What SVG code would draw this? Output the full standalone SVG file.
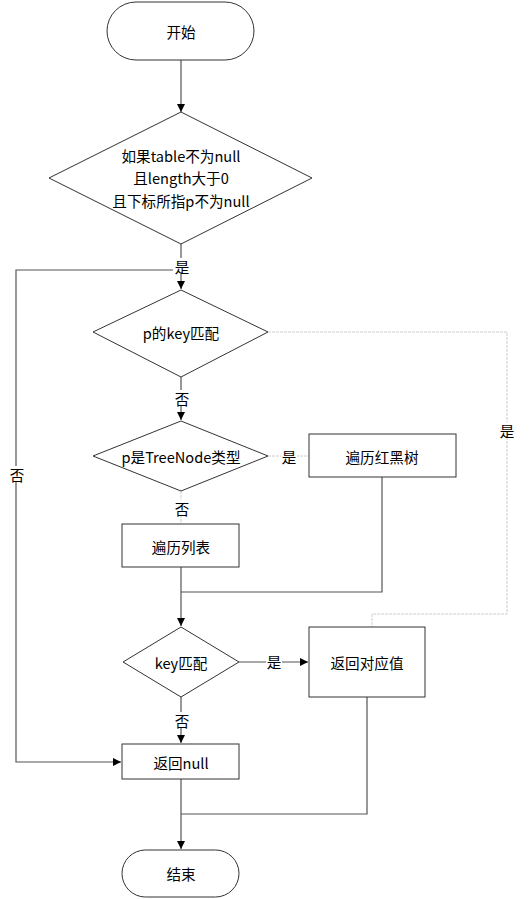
<svg xmlns="http://www.w3.org/2000/svg" width="529" height="899" viewBox="0 0 529 899">
<defs>
<style>
.n{fill:#fff;stroke:#333;stroke-width:1}
.t{font-family:"Noto Sans CJK SC","Liberation Sans",sans-serif;font-size:14.6px;fill:#000;text-anchor:middle;dominant-baseline:central}
.c{fill:none;stroke:#555;stroke-width:1.2}
.g{fill:none;stroke:#ccc;stroke-width:1;stroke-dasharray:3 1}
.bg{fill:#fff}
</style>
<marker id="a" viewBox="0 0 10 10" refX="10" refY="5" markerWidth="8" markerHeight="8" markerUnits="userSpaceOnUse" orient="auto"><path d="M0,0L10,5L0,10z" fill="#000"/></marker>
</defs>
<rect width="529" height="899" fill="#fff"/>
<g id="connectors">
<path class="c" d="M181,60V112" marker-end="url(#a)"/>
<path class="c" d="M181,244V289" marker-end="url(#a)"/>
<path class="c" d="M181,270H16V762H121" marker-end="url(#a)"/>
<path class="c" d="M181,377V420" marker-end="url(#a)"/>
<path class="g" d="M268,456H309"/>
<path class="g" d="M181,491V524"/>
<path class="c" d="M181,567V626" marker-end="url(#a)"/>
<path class="c" d="M382,477V592H181"/>
<path class="g" d="M268,332H507V614H372V627"/>
<path class="c" d="M239,662H308" marker-end="url(#a)"/>
<path class="c" d="M181,697V743" marker-end="url(#a)"/>
<path class="c" d="M181,779V849" marker-end="url(#a)"/>
<path class="c" d="M367,697V814H181"/>
<rect class="bg" x="173" y="258" width="16" height="16"/><text class="t" x="182" y="266">是</text>
<rect class="bg" x="9" y="466" width="16" height="16"/><text class="t" x="17" y="474">否</text>
<rect class="bg" x="173" y="390" width="16" height="16"/><text class="t" x="182" y="398">否</text>
<rect class="bg" x="281" y="448" width="16" height="16"/><text class="t" x="289" y="456">是</text>
<rect class="bg" x="173" y="500" width="16" height="16"/><text class="t" x="182" y="508">否</text>
<rect class="bg" x="499" y="422" width="16" height="16"/><text class="t" x="507" y="430">是</text>
<rect class="bg" x="266" y="654" width="16" height="16"/><text class="t" x="274" y="661">是</text>
<rect class="bg" x="173" y="712" width="16" height="16"/><text class="t" x="182" y="720">否</text>
</g>
<g id="start"><rect class="n" x="107" y="2" width="147" height="58" rx="29"/><text class="t" x="181" y="31">开始</text></g>
<g id="d1"><path class="n" d="M181,112L312,178L181,244L49,178z"/><text class="t" x="181" y="155">如果table不为null</text><text class="t" x="181" y="177">且length大于0</text><text class="t" x="181" y="200">且下标所指p不为null</text></g>
<g id="d2"><path class="n" d="M181,290L268,332L181,377L93,332z"/><text class="t" x="181" y="332">p的key匹配</text></g>
<g id="d3"><path class="n" d="M181,421L268,456L181,491L93,456z"/><text class="t" x="181" y="456">p是TreeNode类型</text></g>
<g id="rbt"><rect class="n" x="309" y="434" width="147" height="43"/><text class="t" x="382" y="456">遍历红黑树</text></g>
<g id="list"><rect class="n" x="122" y="524" width="117" height="43"/><text class="t" x="181" y="546">遍历列表</text></g>
<g id="d4"><path class="n" d="M181,627L239,662L181,697L123,662z"/><text class="t" x="181" y="662">key匹配</text></g>
<g id="ret"><rect class="n" x="309" y="627" width="116" height="70"/><text class="t" x="367" y="662">返回对应值</text></g>
<g id="retnull"><rect class="n" x="122" y="744" width="117" height="35"/><text class="t" x="181" y="762">返回null</text></g>
<g id="end"><rect class="n" x="122" y="850" width="117" height="47" rx="23.5"/><text class="t" x="181" y="873">结束</text></g>
</svg>
